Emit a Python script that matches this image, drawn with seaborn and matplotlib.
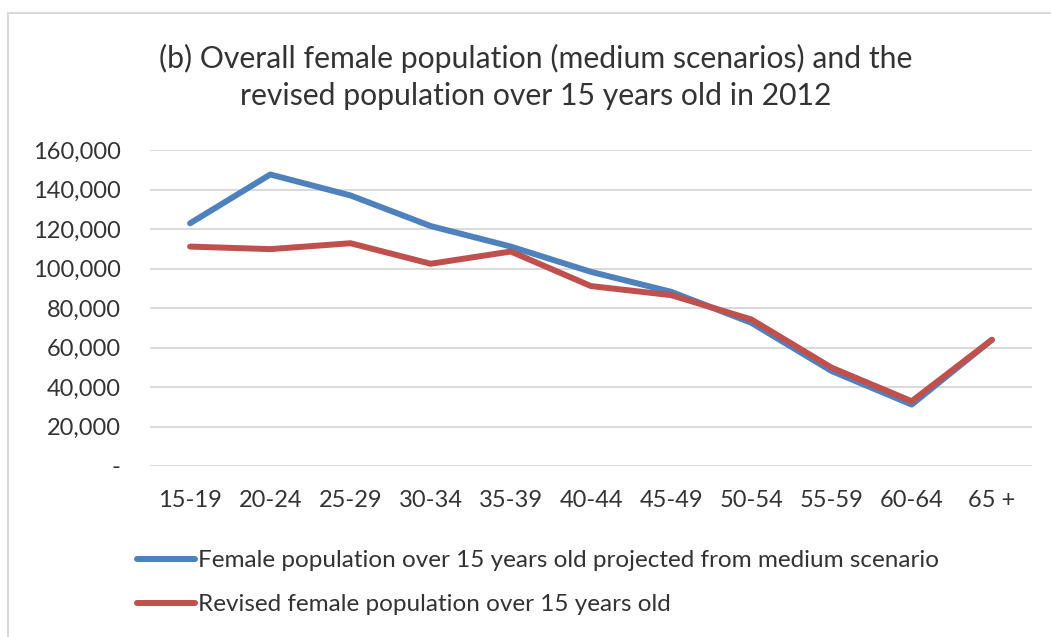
import matplotlib
matplotlib.use("Agg")
import matplotlib.pyplot as plt
from matplotlib.patches import Rectangle
from matplotlib.ticker import FuncFormatter, MultipleLocator
import seaborn as sns
import pandas as pd

age_groups = ["15-19", "20-24", "25-29", "30-34", "35-39", "40-44",
              "45-49", "50-54", "55-59", "60-64", "65 +"]
projected_medium = [122900, 147600, 137000, 121500, 111100, 98300,
                    88200, 72500, 48100, 31100, 63900]
revised = [111100, 109800, 112800, 102400, 108600, 91100,
           86500, 74200, 49800, 32800, 63900]

series_names = ["Female population over 15 years old projected from medium scenario",
                "Revised female population over 15 years old"]
series_colors = ["#4F81BD", "#C0504D"]

df = pd.concat([
    pd.DataFrame({"age": age_groups, "pop": projected_medium, "series": series_names[0]}),
    pd.DataFrame({"age": age_groups, "pop": revised, "series": series_names[1]}),
])

sns.set_theme(style="white")
plt.rcParams["font.family"] = ["Lato", "DejaVu Sans"]
text_color = "#333333"

W, H = 1051, 637
fig = plt.figure(figsize=(W / 100, H / 100), dpi=100)
ax = fig.add_axes([150 / W, 1 - 466 / H, (1032 - 150) / W, (466 - 150) / H])

sns.lineplot(data=df, x="age", y="pop", hue="series", palette=series_colors,
             linewidth=4.3, sort=False, ax=ax, legend=True)
for ln in ax.lines:
    ln.set_solid_capstyle("round")
    ln.set_solid_joinstyle("round")

ax.set_xlim(-0.5, len(age_groups) - 0.5)
ax.set_ylim(0, 160000)
ax.yaxis.set_major_locator(MultipleLocator(20000))
ax.yaxis.set_major_formatter(FuncFormatter(lambda v, p: "-" if v == 0 else f"{int(v):,}"))
ax.grid(axis="y", color="#D9D9D9", linewidth=1.4)
ax.grid(axis="x", visible=False)
ax.set_axisbelow(True)
for s in ax.spines.values():
    s.set_visible(False)
ax.set_xlabel("")
ax.set_ylabel("")
ax.tick_params(axis="y", length=0, pad=21, labelsize=17, labelcolor=text_color)
ax.tick_params(axis="x", length=0, pad=17, labelsize=17, labelcolor=text_color)

handles, labels = ax.get_legend_handles_labels()
ax.legend(handles, labels, loc="upper left", bbox_to_anchor=(137 / W, 1 - 550 / H),
          bbox_transform=fig.transFigure, frameon=False, fontsize=17.5,
          handlelength=2.4, handletextpad=0.12, labelspacing=0.95,
          labelcolor=text_color, borderpad=0, borderaxespad=0)

fig.text(536 / W, 1 - 77 / H,
         "(b) Overall female population (medium scenarios) and the\n"
         "revised population over 15 years old in 2012",
         ha="center", va="center", fontsize=21.7, color=text_color, linespacing=1.4)

fig.add_artist(Rectangle((8 / W, -0.1), 1.2, 1.1 - 12.5 / H, transform=fig.transFigure,
                         fill=False, edgecolor="#D9D9D9", linewidth=1.5))

fig.savefig("out.png", dpi=100)
